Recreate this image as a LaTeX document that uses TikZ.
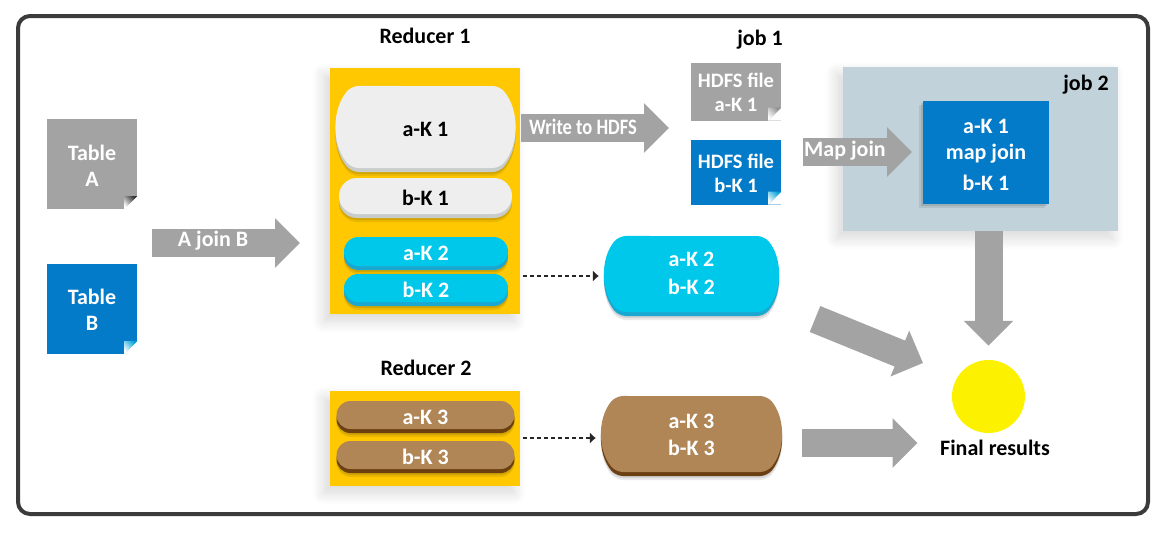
\documentclass[tikz,border=0pt]{standalone}
\usepackage{xcolor}
\usepackage{fontspec}
\setmainfont{Carlito}
\usetikzlibrary{arrows.meta, shapes.misc, shadows, shadows.blur}
\definecolor{framegrey}{RGB}{59, 59, 59}
\definecolor{arrowgrey}{RGB}{163, 163, 163}
\definecolor{tableblue}{RGB}{3, 123, 201}
\definecolor{reduceryellow}{RGB}{255, 200, 0}
\definecolor{pillwhite}{RGB}{238, 238, 238}
\definecolor{pillwhiteband}{RGB}{200, 205, 204}
\definecolor{pillcyan}{RGB}{0, 200, 234}
\definecolor{pillcyanband}{RGB}{27, 168, 208}
\definecolor{pillbrown}{RGB}{176, 134, 87}
\definecolor{pillbrownband}{RGB}{107, 63, 16}
\definecolor{jobgrey}{RGB}{193, 210, 218}
\definecolor{resultyellow}{RGB}{252, 242, 0}
\tikzset{
    softshadow/.style={blur shadow={shadow xshift=-6pt, shadow yshift=-7pt, shadow blur radius=12pt, shadow blur steps=16, shadow opacity=16}},
    pillshadow/.style={general shadow={shadow yshift=-6pt, fill=black, opacity=.08}, general shadow={shadow yshift=-4pt, fill=black, opacity=.1}},
    sheetbox/.style={fill=#1, minimum width=90pt, minimum height=90pt, inner sep=0pt, text=white, font=\fontsize{22}{24}\bfseries},
    hdfsbox/.style={fill=#1, minimum width=90pt, inner sep=0pt, text=white, font=\fontsize{20.5}{24}\bfseries},
    reducerbox/.style={fill=reduceryellow, minimum width=190pt, inner sep=0pt, softshadow},
    titlelabel/.style={inner sep=0pt, text=black, font=\fontsize{22}{24}\bfseries},
    arrowlabel/.style={inner sep=0pt, text=white, font=\fontsize{22}{24}\bfseries},
    pillbox/.style n args={3}{rounded rectangle, rounded rectangle arc length=#3, inner sep=0pt, pillshadow,
        general shadow={shadow yshift=-2pt, fill=#2}, postaction={fill=#1, transform canvas={yshift=2pt}}, font=\fontsize{22}{24}\bfseries},
    fatarrow/.style={arrowgrey, line width=28pt, -{Triangle[width=48pt,length=25pt]}},
    dotarrow/.style={draw=black!85, line width=2.6pt, dash pattern=on 4pt off 3pt, -{Latex[length=6pt,width=12pt]}, shorten <=3pt, shorten >=6pt},
}
\newcommand{\sheetfold}[2]{
    \fill[white] ([xshift=-13pt]#1.south east) -- (#1.south east) -- ([yshift=13pt]#1.south east) -- cycle;
    \shade[left color=white, right color=#2, shading angle=135] ([xshift=-13pt,yshift=13pt]#1.south east) -- ([yshift=13pt]#1.south east) -- ([xshift=-13pt]#1.south east) -- cycle;
}
\begin{document}
\begin{tikzpicture}[x=1pt, y=-1pt]
        \useasboundingbox (0,0) rectangle (1168,533);
        \draw[framegrey, line width=4pt, rounded corners=12pt] (18,16) rectangle (1148,514);

        \node[sheetbox=arrowgrey] (tablea) at (92,164) {
            \begin{tabular}{c}
                \rule{0pt}{26pt}Table\\[2pt]
                A
            \end{tabular}
        };
        \node[sheetbox=tableblue] (tableb) at (92,309) {
            \begin{tabular}{c}
                \rule{0pt}{24pt}Table\\[2pt]
                B
            \end{tabular}
        };
        \sheetfold{tablea}{black!80}
        \sheetfold{tableb}{tableblue!70!cyan}

        \coordinate (joinstart) at (152,243);
        \coordinate (joinend) at (300,243);
        \draw[fatarrow] (joinstart) -- (joinend);
        \node[arrowlabel] (joinlabel) at (213,241) {A join B};

        \node[titlelabel] (reduceronelabel) at (425,36) {Reducer 1};
        \node[reducerbox, minimum height=246pt] (reducerone) at (425,191) {};
        \node[pillbox={pillwhite}{pillwhiteband}{80}, rounded corners=7pt, minimum width=178pt, minimum height=82pt] (akone) at (425.5,129) {a-K 1};
        \node[pillbox={pillwhite}{pillwhiteband}{180}, minimum width=173pt, minimum height=36pt] (bkone) at (425.5,198) {b-K 1};
        \node[pillbox={pillcyan}{pillcyanband}{180}, minimum width=164pt, minimum height=29pt, text=white] (aktwo) at (426,253.5) {a-K 2};
        \node[pillbox={pillcyan}{pillcyanband}{180}, minimum width=164pt, minimum height=28pt, text=white] (bktwo) at (426,290) {b-K 2};

        \node[titlelabel] (reducertwolabel) at (426,368) {Reducer 2};
        \node[reducerbox, minimum height=95pt] (reducertwo) at (425,438.5) {};
        \node[pillbox={pillbrown}{pillbrownband}{180}, minimum width=178pt, minimum height=28pt, text=white] (akthree) at (425.5,417) {a-K 3};
        \node[pillbox={pillbrown}{pillbrownband}{180}, minimum width=178pt, minimum height=28pt, text=white] (bkthree) at (425.5,457) {b-K 3};

        \coordinate (writestart) at (521,128);
        \coordinate (writeend) at (669,128);
        \draw[fatarrow] (writestart) -- (writeend);
        \node[arrowlabel] (writelabel) at (583,127) {\scalebox{.84}[1]{Write to HDFS}};

        \node[titlelabel] (jobonelabel) at (760,40) {job 1};
        \node[hdfsbox=arrowgrey, minimum height=58pt] (hdfsa) at (736,91.5) {
            \begin{tabular}{c}
                \rule{0pt}{24pt}HDFS file\\
                a-K 1
            \end{tabular}
        };
        \node[hdfsbox=tableblue, minimum height=65pt] (hdfsb) at (736,172) {
            \begin{tabular}{c}
                \rule{0pt}{24pt}HDFS file\\
                b-K 1
            \end{tabular}
        };
        \sheetfold{hdfsa}{black!45}
        \sheetfold{hdfsb}{tableblue!70!cyan}

        \node[fill=jobgrey, minimum width=275pt, minimum height=164pt, inner sep=0pt, softshadow] (jobtwo) at (980.5,149) {};
        \node[titlelabel] (jobtwolabel) at (1086,85) {job 2};
        \node[fill=tableblue, minimum width=126pt, minimum height=103pt, inner sep=0pt, text=white, font=\fontsize{22}{24}\bfseries, general shadow={shadow xshift=-4pt, shadow yshift=-4pt, fill=black, opacity=.08}, general shadow={shadow xshift=-2pt, shadow yshift=-2pt, fill=black, opacity=.1}] (mapjoin) at (986,152.5) {
            \begin{tabular}{c}
                \rule{0pt}{26pt}a-K 1\\[2pt]
                map join\\[7pt]
                b-K 1
            \end{tabular}
        };
        \coordinate (mapstart) at (803,152);
        \coordinate (mapend) at (912,152);
        \draw[fatarrow] (mapstart) -- (mapend);
        \node[arrowlabel] (maplabel) at (845,151) {Map join};

        \node[pillbox={pillcyan}{pillcyanband}{80}, rounded corners=7pt, minimum width=173pt, minimum height=76pt, text=white] (bigtwo) at (691.5,276) {
            \begin{tabular}{c}
                a-K 2\\[4pt]
                b-K 2
            \end{tabular}
        };
        \node[pillbox={pillbrown}{pillbrownband}{80}, rounded corners=7pt, minimum width=179pt, minimum height=76pt, text=white] (bigthree) at (691.5,436) {
            \begin{tabular}{c}
                \rule{0pt}{20pt}a-K 3\\[3pt]
                b-K 3
            \end{tabular}
        };
        \draw[dotarrow] (reducerone.east |- bigtwo.west) -- (bigtwo.west);
        \draw[dotarrow] ([yshift=-2pt]reducertwo.east |- bigthree.west) -- ([yshift=-2pt]bigthree.west);

        \node[circle, fill=resultyellow, minimum size=73pt, inner sep=0pt] (finalresult) at (988.5,396.5) {};
        \node[titlelabel] (finallabel) at (995,448) {Final results};

        \coordinate (diagstart) at (815,319);
        \coordinate (diagend) at (923,363);
        \coordinate (lowstart) at (802,443);
        \coordinate (lowend) at (917.5,443);
        \draw[fatarrow] (jobtwo.south -| finalresult.north) -- ([yshift=14pt]finalresult.north);
        \draw[fatarrow] (diagstart) -- (diagend);
        \draw[fatarrow] (lowstart) -- (lowend);
    \end{tikzpicture}
\end{document}
